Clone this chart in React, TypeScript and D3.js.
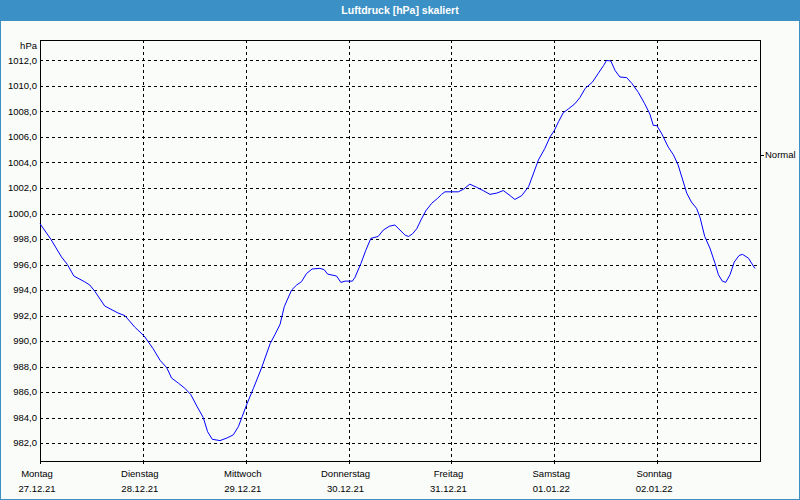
import * as d3 from 'd3'

const title = 'Luftdruck [hPa] skaliert'
const unitLabel = 'hPa'
const normalLabel = 'Normal'
const normalValue = 1004.6

// hours since Mo 27.12.21 00:00
const hoursSinceStart = [
  0, 2.5, 5, 6.4, 7.9, 10.4, 11.6, 12.8, 15.1, 18.2, 19.8, 22.1, 24.3, 26.4, 28, 29.6, 30.7, 32.3, 33.8, 35.2,
  36.6, 38.1, 39.1, 40.2, 42, 43.6, 45.1, 46.3, 47.2, 48.2, 49.8, 51.7, 53.7, 54.8, 56, 57, 58.7, 59.9, 61, 62.2,
  63.5, 65.3, 66.3, 67.1, 69.2, 70.2, 71.2, 72.9, 73.5, 74.9, 76, 77.2, 78.9, 80.1, 81.5, 82.8, 84, 85.2, 86, 86.9,
  87.9, 88.9, 90, 91.4, 92.8, 93.7, 94.5, 96.1, 97.6, 98.8, 100.3, 101.9, 103.4, 105, 106.6, 108.1, 109.7, 110.8,
  112.4, 114, 115.1, 116.3, 117.8, 119, 120, 121, 122.1, 123.3, 124.8, 126, 127.2, 128.9, 130.3, 131.5, 132.2,
  133.2, 134.2, 135.3, 136.9, 138.1, 139.6, 141.1, 142.3, 143.1, 143.9, 145, 146.6, 147.8, 148.9, 149.9, 150.9,
  152, 153.2, 154, 155.1, 156.3, 157.5, 158.3, 159.2, 160, 161, 162, 163.1, 163.9, 165.3, 166.8,
]

const pressure = [
  999.2, 998.0, 996.6, 996.0, 995.1, 994.65, 994.4, 993.9, 992.75, 992.2, 992.0, 991.1, 990.4, 989.4, 988.5, 987.9,
  987.1, 986.7, 986.3, 985.8, 984.9, 984.0, 982.9, 982.3, 982.2, 982.4, 982.65, 983.3, 984.1, 985.0, 986.3, 987.9,
  989.8, 990.5, 991.3, 992.7, 994.0, 994.4, 994.65, 995.3, 995.65, 995.7, 995.6, 995.25, 995.1, 994.6, 994.7, 994.7,
  995.0, 996.1, 997.1, 998.05, 998.2, 998.7, 999.0, 999.1, 998.7, 998.3, 998.2, 998.4, 998.8, 999.5, 1000.2, 1000.8,
  1001.2, 1001.5, 1001.7, 1001.7, 1001.7, 1001.9, 1002.3, 1002.05, 1001.8, 1001.5, 1001.6, 1001.8, 1001.4, 1001.1,
  1001.4, 1002.1, 1003.1, 1004.2, 1005.1, 1006.0, 1006.5, 1007.2, 1007.9, 1008.2, 1008.6, 1009.1, 1009.8, 1010.3,
  1011.0, 1011.6, 1012.0, 1011.95, 1011.2, 1010.7, 1010.65, 1010.2, 1009.5, 1008.6, 1007.8, 1006.9, 1006.9, 1006.3,
  1005.2, 1004.6, 1003.8, 1002.7, 1001.6, 1000.9, 1000.4, 999.7, 998.2, 997.3, 996.1, 995.2, 994.7, 994.6, 995.2,
  996.2, 996.7, 996.8, 996.5, 995.7,
]

const yTicks = [982, 984, 986, 988, 990, 992, 994, 996, 998, 1000, 1002, 1004, 1006, 1008, 1010, 1012]
const dayNames = ['Montag', 'Dienstag', 'Mittwoch', 'Donnerstag', 'Freitag', 'Samstag', 'Sonntag']
const dayDates = ['27.12.21', '28.12.21', '29.12.21', '30.12.21', '31.12.21', '01.01.22', '02.01.22']

const W = 800
const H = 500
const plot = { left: 40, top: 40, right: 760, bottom: 461 }
const blue = '#3b91c5'
const font = '"Liberation Sans", Arial, sans-serif'

const start = new Date(2021, 11, 27)
const end = new Date(2022, 0, 3)

const de = d3.formatLocale({ decimal: ',', thousands: '.', grouping: [3], currency: ['', ' €'] })
const fmt = de.format('.1f')

export default function App() {
  const x = d3.scaleTime().domain([start, end]).range([plot.left, plot.right])
  const y = d3.scaleLinear().domain([980.6, 1013.6]).range([plot.bottom, plot.top])

  const points = hoursSinceStart.map((h, i) => ({ t: new Date(start.getTime() + h * 3600e3), v: pressure[i] }))
  const line = d3
    .line<{ t: Date; v: number }>()
    .x((d) => x(d.t))
    .y((d) => y(d.v))

  const days = dayNames.map((_, i) => d3.timeDay.offset(start, i))

  return (
    <>
      <style>{'body{margin:0}'}</style>
      <svg width={W} height={H} style={{ display: 'block', fontFamily: font }}>
        <rect x={0} y={0} width={W} height={H} fill="#fafcfa" />
        <rect x={0.5} y={0.5} width={W - 1} height={H - 1} fill="none" stroke={blue} />
        <rect x={0} y={0} width={W} height={21} fill={blue} />
        <text x={W / 2} y={14} textAnchor="middle" fill="#fff" fontWeight="bold" fontSize={10.5}>
          {title}
        </text>

        {/* horizontal grid + labels */}
        {yTicks.map((t) => (
          <g key={t}>
            <line
              x1={plot.left}
              x2={plot.right}
              y1={Math.round(y(t)) + 0.5}
              y2={Math.round(y(t)) + 0.5}
              stroke="#000"
              strokeDasharray="3,3"
              shapeRendering="crispEdges"
            />
            <text x={37} y={y(t)} dy="0.35em" textAnchor="end" fontSize={9.5} fill="#000">
              {fmt(t)}
            </text>
          </g>
        ))}
        <text x={37} y={49} textAnchor="end" fontSize={9.5} fill="#000">
          {unitLabel}
        </text>

        {/* vertical grid + day labels */}
        {days.map((d, i) => {
          const px = Math.round(x(d)) + 0.5
          return (
            <g key={i}>
              {i > 0 && (
                <line
                  x1={px}
                  x2={px}
                  y1={plot.top}
                  y2={plot.bottom}
                  stroke="#000"
                  strokeDasharray="3,3"
                  shapeRendering="crispEdges"
                />
              )}
              <line x1={px} x2={px} y1={plot.bottom} y2={plot.bottom + 3} stroke="#000" shapeRendering="crispEdges" />
              <text x={x(d) - 3} y={477} textAnchor="middle" fontSize={9.5} fill="#000">
                {dayNames[i]}
              </text>
              <text x={x(d) - 3} y={492} textAnchor="middle" fontSize={9.5} fill="#000">
                {dayDates[i]}
              </text>
            </g>
          )
        })}

        {/* frame */}
        <rect
          x={plot.left + 0.5}
          y={plot.top + 0.5}
          width={plot.right - plot.left}
          height={plot.bottom - plot.top}
          fill="none"
          stroke="#000"
          shapeRendering="crispEdges"
        />

        {/* normal marker */}
        <line
          x1={plot.right + 1}
          x2={plot.right + 4}
          y1={Math.round(y(normalValue)) + 0.5}
          y2={Math.round(y(normalValue)) + 0.5}
          stroke="#000"
          shapeRendering="crispEdges"
        />
        <text x={765} y={y(normalValue)} dy="0.35em" fontSize={9.5} fill="#000">
          {normalLabel}
        </text>

        <path d={line(points) ?? ''} fill="none" stroke="#0000ff" strokeWidth={1} />
      </svg>
    </>
  )
}
